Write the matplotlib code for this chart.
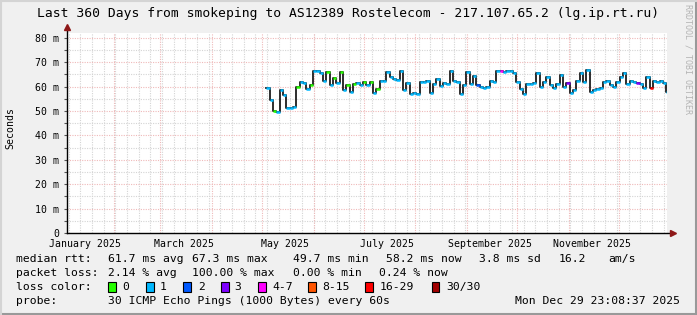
import matplotlib
matplotlib.use('Agg')
import matplotlib.pyplot as plt
import matplotlib.dates as mdates
from matplotlib.patches import Rectangle
from datetime import datetime, timedelta

# time window of the graph (last 360 days)
t_end = datetime(2025, 12, 29, 23, 8, 37)
t_start = t_end - timedelta(days=360)
data_start = datetime(2025, 5, 3, 12)
step_days = 2

# median rtt in ms, one value per 2 days
median_ms = [
    59.5, 54.5, 49.9, 49.7, 58.5, 56.5, 51.1, 51.1, 51.5, 60.0,
    62.0, 61.5, 59.0, 60.5, 66.3, 66.3, 65.5, 62.3, 66.0, 60.5,
    63.5, 61.5, 66.0, 58.5, 60.5, 58.0, 61.0, 61.5, 60.5, 61.8,
    60.8, 62.0, 57.5, 59.0, 62.2, 62.5, 66.2, 64.0, 63.0, 62.8,
    66.5, 58.5, 61.5, 57.0, 57.2, 57.0, 61.8, 62.0, 62.3, 57.5,
    61.0, 63.0, 60.2, 61.5, 61.0, 66.5, 62.5, 62.0, 57.0, 60.5,
    66.0, 61.0, 64.5, 60.5, 59.8, 59.3, 60.0, 62.2, 62.0, 66.3,
    66.6, 66.2, 66.6, 66.3, 65.8, 62.0, 59.0, 57.0, 61.2, 61.0,
    61.3, 65.5, 60.0, 62.0, 64.0, 60.5, 59.5, 61.0, 64.8, 60.0,
    61.5, 57.5, 58.8, 62.5, 65.5, 62.0, 66.8, 58.0, 58.5, 59.0,
    59.5, 62.0, 62.2, 60.5, 59.8, 62.0, 64.0, 65.5, 61.0, 62.2,
    61.8, 61.5, 61.0, 59.3, 64.0, 59.3, 62.5, 62.0, 62.3, 61.5,
    57.8,
]

# index into loss_colors for every point
loss_idx = [
    1, 1, 0, 1, 1, 1, 1, 1, 1, 0,
    1, 1, 1, 0, 1, 1, 1, 1, 0, 1,
    0, 1, 0, 1, 0, 1, 0, 1, 1, 0,
    1, 0, 1, 0, 1, 1, 1, 1, 1, 1,
    1, 1, 1, 1, 1, 1, 1, 1, 1, 1,
    1, 1, 1, 1, 1, 1, 1, 1, 1, 1,
    1, 1, 1, 2, 1, 1, 1, 1, 1, 1,
    4, 1, 1, 1, 1, 1, 1, 1, 1, 1,
    1, 1, 1, 1, 1, 1, 1, 1, 1, 1,
    3, 1, 1, 1, 1, 1, 1, 1, 1, 1,
    1, 1, 1, 1, 1, 1, 1, 1, 1, 1,
    1, 3, 1, 1, 1, 6, 1, 1, 1, 1,
    1,
]

loss_labels = ['0', '1', '2', '3', '4-7', '8-15', '16-29', '30/30']
loss_colors = ['#26ff00', '#00b8ff', '#0059ff', '#7e00ff',
               '#ff00ff', '#ff5500', '#ff0000', '#a10000']
loss_box_x = [108, 146, 183, 221, 258, 308, 365, 432]
loss_text_x = [122, 160, 198, 234, 272, 322, 380, 446]

y_ticks = [0, 10, 20, 30, 40, 50, 60, 70, 80]
y_labels = ['0', '10 m', '20 m', '30 m', '40 m', '50 m', '60 m', '70 m', '80 m']

W, H = 697, 315
mono = 'DejaVu Sans Mono'
plt.rcParams['font.family'] = mono

fig = plt.figure(figsize=(W / 100, H / 100), dpi=100)
fig.patch.set_facecolor('#f0f0f0')

ax = fig.add_axes([67 / W, (H - 233) / H, 600 / W, 200 / H])
ax.set_facecolor('white')
ax.set_xlim(t_start, t_end)
ax.set_ylim(0, 82)

red_grid = '#efb9b9'
gray_grid = '#d4d4d4'
dots = (0, (1, 1.2))

# weekly minor grid, monthly major grid
for d in mdates.WeekdayLocator(byweekday=mdates.SU).tick_values(t_start, t_end):
    ax.axvline(d, color=gray_grid, lw=0.8, ls=dots, zorder=1)
for d in mdates.MonthLocator().tick_values(t_start, t_end):
    if mdates.date2num(t_start) < d < mdates.date2num(t_end):
        ax.axvline(d, color=red_grid, lw=0.8, ls=dots, zorder=1.5)
for v in range(5, 81, 10):
    ax.axhline(v, color=gray_grid, lw=0.8, ls=dots, zorder=1)
for v in range(10, 81, 10):
    ax.axhline(v, color=red_grid, lw=0.8, ls=dots, zorder=1.5)

# data: dark step line + loss coloured medians
dates = [data_start + timedelta(days=step_days * i) for i in range(len(median_ms))]
edges = dates + [t_end]
ax.step(edges, median_ms + [median_ms[-1]], where='post', color='#1c1c1c', lw=1.3, zorder=3)
ax.hlines(median_ms, edges[:-1], edges[1:], colors=[loss_colors[i] for i in loss_idx],
          lw=1.8, zorder=4)

# axes
for s in ax.spines.values():
    s.set_visible(False)
ax.plot([0, 1.008], [0, 0], transform=ax.transAxes, color='black', lw=1, clip_on=False, zorder=5)
ax.plot([0, 0], [0, 1.025], transform=ax.transAxes, color='black', lw=1, clip_on=False, zorder=5)
ax.plot([1.01], [0], marker='>', ms=4, color='#8e1818', transform=ax.transAxes, clip_on=False, zorder=6)
ax.plot([0], [1.03], marker='^', ms=4, color='#8e1818', transform=ax.transAxes, clip_on=False, zorder=6)

ax.set_yticks(y_ticks)
ax.set_yticklabels(y_labels)
ax.set_yticks(range(5, 81, 10), minor=True)
ax.tick_params(axis='y', which='both', length=2, width=0.8, pad=3.5, labelsize=7.1, color='#555555')

ax.xaxis.set_major_locator(mdates.MonthLocator(bymonth=[1, 3, 5, 7, 9, 11], bymonthday=15))
ax.xaxis.set_major_formatter(mdates.DateFormatter('%B %Y'))
ax.tick_params(axis='x', which='both', length=0, pad=4, labelsize=7.1)

# titles
fig.text(0.5, 1 - 14 / H, 'Last 360 Days from smokeping to AS12389 Rostelecom - 217.107.65.2 (lg.ip.rt.ru)',
         ha='center', va='center', fontsize=9.4)
fig.text(10 / W, 1 - 128 / H, 'Seconds', rotation=90, ha='center', va='center', fontsize=7.1)
fig.text(688 / W, 1 - 4 / H, 'RRDTOOL / TOBI OETIKER', rotation=270, ha='center', va='top',
         fontsize=6, color='#b4b4b4')

# legend
fs = 8.2
def put(x, y, s, ha='left'):
    fig.text(x / W, 1 - y / H, s, ha=ha, va='center', fontsize=fs)

put(16, 259, 'median rtt:')
for x, s in zip([108, 192, 293, 386, 479, 559, 608],
                ['61.7 ms avg', '67.3 ms max', '49.7 ms min', '58.2 ms now', '3.8 ms sd', '16.2', 'am/s']):
    put(x, 259, s)

put(16, 273, 'packet loss:')
for x, s in zip([108, 192, 293, 379],
                ['2.14 % avg', '100.00 % max', '0.00 % min', '0.24 % now']):
    put(x, 273, s)

put(16, 287, 'loss color:')
for bx, tx, lab, col in zip(loss_box_x, loss_text_x, loss_labels, loss_colors):
    fig.add_artist(Rectangle((bx / W, 1 - 292 / H), 7.5 / W, 10 / H, transform=fig.transFigure,
                             facecolor=col, edgecolor='black', lw=0.8))
    put(tx, 287, lab)

put(16, 301, 'probe:')
put(108, 301, '30 ICMP Echo Pings (1000 Bytes) every 60s')
put(680, 301, 'Mon Dec 29 23:08:37 2025', ha='right')

# 3d frame
fig.add_artist(plt.Line2D([0, 1], [1 / H, 1 / H], transform=fig.transFigure, color='#999999', lw=1.5))
fig.add_artist(plt.Line2D([1 - 1 / W, 1 - 1 / W], [0, 1], transform=fig.transFigure, color='#999999', lw=1.5))
fig.add_artist(plt.Line2D([0, 1], [1 - 1 / H, 1 - 1 / H], transform=fig.transFigure, color='#d4d4d4', lw=1.5))
fig.add_artist(plt.Line2D([1 / W, 1 / W], [0, 1], transform=fig.transFigure, color='#d4d4d4', lw=1.5))

fig.savefig('out.png', dpi=100, facecolor=fig.get_facecolor())
